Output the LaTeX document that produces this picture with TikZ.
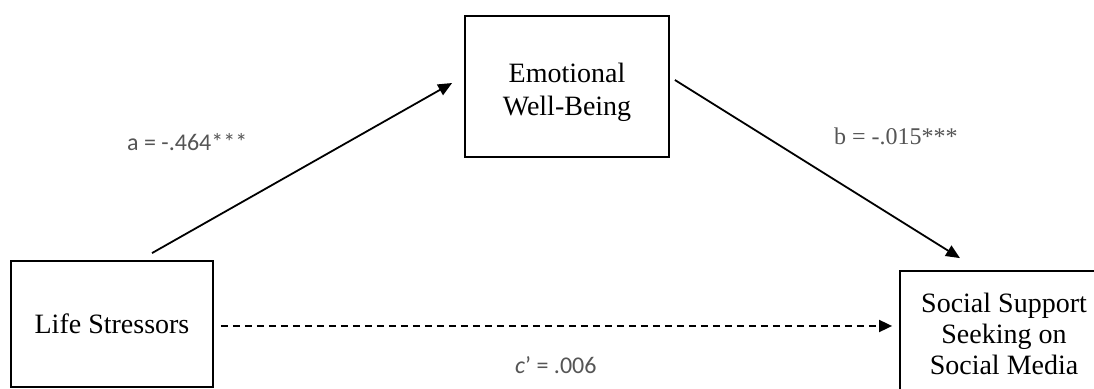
\documentclass[tikz,border=0pt]{standalone}
\usepackage{fontspec}
\setmainfont{Liberation Serif}
\newfontfamily\calib{Carlito}
\usetikzlibrary{arrows.meta}
\definecolor{labelgray}{RGB}{85,85,85}
\begin{document}
\begin{tikzpicture}[x=1pt,y=1pt,
  varbox/.style={draw, line width=1.8pt, align=center, inner sep=0pt,
    font=\fontsize{28}{32}\selectfont},
  boxtext/.style={align=center, inner sep=0pt},
  pathline/.style={line width=1.8pt, -{Triangle[length=14pt,width=12pt]}},
  coef/.style={anchor=base west, inner sep=0pt, text=labelgray, font=\fontsize{24}{28}\selectfont}
]
\useasboundingbox (0,0) rectangle (1094,388);
\clip (0,0) rectangle (1094,388);
\node[varbox, minimum width=202pt, minimum height=126pt] (ls) at (112,64) {Life Stressors};
\node[varbox, minimum width=204pt, minimum height=141pt] (ewb) at (567,301.5) {};
\node[boxtext, font=\fontsize{28}{33}\selectfont] (ewbt) at ([yshift=-6pt]ewb.center) {Emotional\\Well-Being};
\node[varbox, minimum width=240pt, minimum height=126pt] (ss) at (1020,54) {};
\node[boxtext, font=\fontsize{28}{31}\selectfont] (sst) at (1004,54) {Social Support\\Seeking on\\Social Media};
\draw[pathline] ([shift={(40pt,7pt)}]ls.north) -- ([shift={(-12pt,3.5pt)}]ewb.west);
\draw[pathline] ([shift={(5pt,6.5pt)}]ewb.east) -- ([shift={(-60pt,12pt)}]ss.north);
\draw[line width=1.8pt, dash pattern=on 7pt off 5pt, -{Triangle[length=13pt,width=12pt]}]
  ([shift={(7pt,-2pt)}]ls.east) -- ([shift={(-7pt,8pt)}]ss.west);
\node[coef, font=\calib\fontsize{24}{28}\selectfont] (la) at (127,237) {a = -.464***};
\node[coef] (lb) at (834,243) {b = -.015***};
\node[coef, font=\calib\fontsize{24}{28}\selectfont] (lc) at (515,15) {\textit{c}’ = .006};
\end{tikzpicture}
\end{document}
